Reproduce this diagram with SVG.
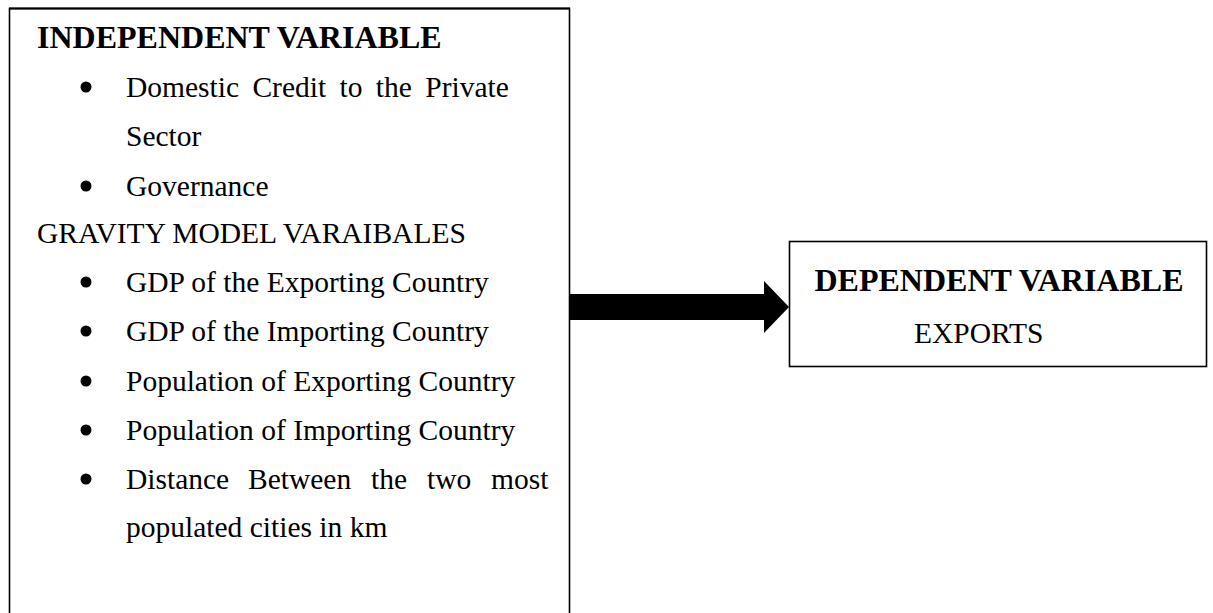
<svg xmlns="http://www.w3.org/2000/svg" width="1213" height="613" viewBox="0 0 1213 613">
<style>
.box{fill:#fff;stroke:#000;stroke-width:1.6}
.t{font-family:"Liberation Serif","Times New Roman",serif;font-size:29.5px;fill:#000}
.b{font-weight:bold;font-size:32px}
.dot{fill:#000}
</style>
<rect width="1213" height="613" fill="#fff"/>
<g id="independent">
<rect class="box" x="9.5" y="8.5" width="560" height="620"/>
<line x1="9" y1="8.5" x2="570" y2="8.5" stroke="#000" stroke-width="2.2"/>
<text class="t b" x="37" y="48">INDEPENDENT VARIABLE</text>
<circle class="dot" cx="86" cy="87" r="5.5"/>
<text class="t" x="126" y="97" word-spacing="6">Domestic Credit to the Private</text>
<text class="t" x="126" y="146">Sector</text>
<circle class="dot" cx="86" cy="186" r="5.5"/>
<text class="t" x="126" y="196">Governance</text>
<text class="t" x="37" y="243">GRAVITY MODEL VARAIBALES</text>
<circle class="dot" cx="86" cy="282" r="5.5"/>
<text class="t" x="126" y="292">GDP of the Exporting Country</text>
<circle class="dot" cx="86" cy="331" r="5.5"/>
<text class="t" x="126" y="341">GDP of the Importing Country</text>
<circle class="dot" cx="86" cy="381" r="5.5"/>
<text class="t" x="126" y="391">Population of Exporting Country</text>
<circle class="dot" cx="86" cy="430" r="5.5"/>
<text class="t" x="126" y="440">Population of Importing Country</text>
<circle class="dot" cx="86" cy="479" r="5.5"/>
<text class="t" y="489"><tspan x="126">Distance</tspan><tspan x="248">Between</tspan><tspan x="371">the</tspan><tspan x="427">two</tspan><tspan x="491">most</tspan></text>
<text class="t" x="126" y="537">populated cities in km</text>
</g>
<g id="dependent">
<rect class="box" x="789.5" y="241.5" width="417" height="125"/>
<text class="t b" x="999" y="291" text-anchor="middle">DEPENDENT VARIABLE</text>
<text class="t" x="914" y="343">EXPORTS</text>
</g>
<g id="connectors">
<polygon points="569,294 764,294 764,281 789,307 764,333 764,320 569,320" fill="#000"/>
</g>
</svg>
